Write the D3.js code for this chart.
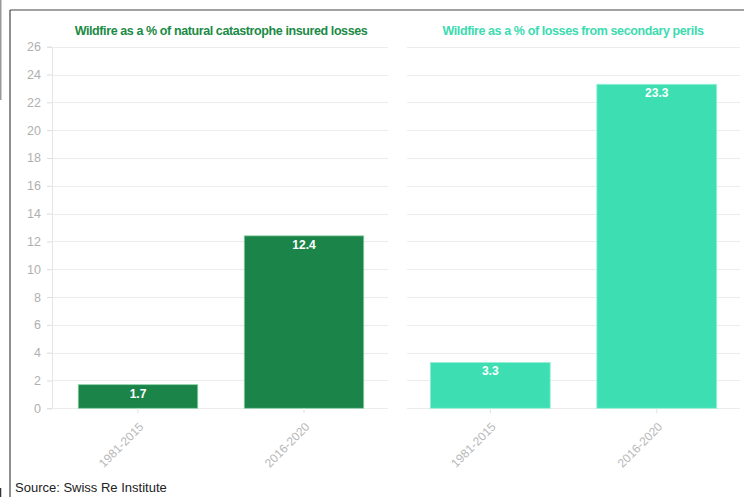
<!DOCTYPE html>
<html><head><meta charset="utf-8">
<script src="https://cdn.jsdelivr.net/npm/d3@7"></script>
<style>body{margin:0;background:#fff}svg{display:block}</style>
</head><body>
<svg id="c" width="744" height="497"></svg>
<script>
const categories = ["1981-2015", "2016-2020"];
const natcatShare = [1.7, 12.4];
const secondaryShare = [3.3, 23.3];
const yTicks = [0, 2, 4, 6, 8, 10, 12, 14, 16, 18, 20, 22, 24, 26];
const titles = ["Wildfire as a % of natural catastrophe insured losses", "Wildfire as a % of losses from secondary perils"];
const source = "Source: Swiss Re Institute";

const svg = d3.select("#c");
const font = "Helvetica, Arial, 'Liberation Sans', sans-serif";

// frame
svg.append("line").attr("x1", 0.5).attr("x2", 0.5).attr("y1", 0).attr("y2", 100).attr("stroke", "#999").attr("stroke-width", 2);
svg.append("line").attr("x1", 0.5).attr("x2", 0.5).attr("y1", 488).attr("y2", 497).attr("stroke", "#333").attr("stroke-width", 1.5);
svg.append("line").attr("x1", 10).attr("x2", 744).attr("y1", 10).attr("y2", 10).attr("stroke", "#444").attr("stroke-width", 1.2);
svg.append("line").attr("x1", 10).attr("x2", 10).attr("y1", 10).attr("y2", 497).attr("stroke", "#444").attr("stroke-width", 1.2);

const y = d3.scaleLinear().domain([0, 26]).range([408.3, 46.7]);

const panels = [
  {values: natcatShare, range: [55, 387], grid: [52, 388], color: "#1b8549", stroke: "#8fd1a8", title: titles[0], titleColor: "#1a8a45", titleX: 221, axis: true},
  {values: secondaryShare, range: [407, 740], grid: [407, 740], color: "#3ddfb2", stroke: "#9cf0d6", title: titles[1], titleColor: "#3cdbb0", titleX: 573, axis: false}
];

panels.forEach(p => {
  const g = svg.append("g");
  const x = d3.scaleBand().domain(categories).range(p.range).paddingInner(0.28).paddingOuter(0.14);
  // gridlines
  g.selectAll("line.grid").data(yTicks).join("line")
    .attr("x1", p.grid[0]).attr("x2", p.grid[1])
    .attr("y1", d => Math.round(y(d)) + 0.5).attr("y2", d => Math.round(y(d)) + 0.5)
    .attr("stroke", "#ececec").attr("stroke-width", 1);
  if (p.axis) {
    const ya = g.append("g").attr("transform", "translate(52,0)")
      .call(d3.axisLeft(y).tickValues(yTicks).tickSize(5).tickPadding(6));
    ya.select(".domain").attr("stroke", "#e6e6e6");
    ya.selectAll(".tick line").attr("stroke", "#ddd");
    ya.selectAll("text").attr("fill", "#b0b0b0").attr("font-size", 12.5).attr("font-family", font);
  }
  // bars
  g.selectAll("rect").data(p.values).join("rect")
    .attr("x", (d, i) => x(categories[i]))
    .attr("width", x.bandwidth())
    .attr("y", d => y(d))
    .attr("height", d => y(0) - y(d))
    .attr("fill", p.color).attr("stroke", p.stroke).attr("stroke-width", 0.8);
  g.selectAll("text.val").data(p.values).join("text").attr("class", "val")
    .attr("x", (d, i) => x(categories[i]) + x.bandwidth() / 2)
    .attr("y", d => y(d) + 13)
    .attr("text-anchor", "middle").attr("fill", "#fff")
    .attr("font-weight", "bold").attr("font-size", 12).attr("font-family", font)
    .text(d => d.toFixed(1));
  // x axis
  const xa = g.append("g").attr("transform", "translate(0,408.3)")
    .call(d3.axisBottom(x).tickSize(5).tickPadding(4));
  xa.select(".domain").remove();
  xa.selectAll(".tick line").attr("stroke", "#e0e0e0");
  xa.selectAll("text").attr("fill", "#b8b8b8").attr("font-size", 12).attr("font-family", font)
    .attr("text-anchor", "end").attr("dy", "0.35em")
    .attr("transform", "translate(-3,10) rotate(-45)");
  // title
  svg.append("text").attr("x", p.titleX).attr("y", 35)
    .attr("text-anchor", "middle").attr("fill", p.titleColor)
    .attr("font-weight", "bold").attr("font-size", 12.5).attr("letter-spacing", -0.4)
    .attr("font-family", font)
    .text(p.title);
});

svg.append("text").attr("x", 15).attr("y", 492).attr("fill", "#222")
  .attr("font-size", 13).attr("font-family", font).text(source);
</script>
</body></html>
